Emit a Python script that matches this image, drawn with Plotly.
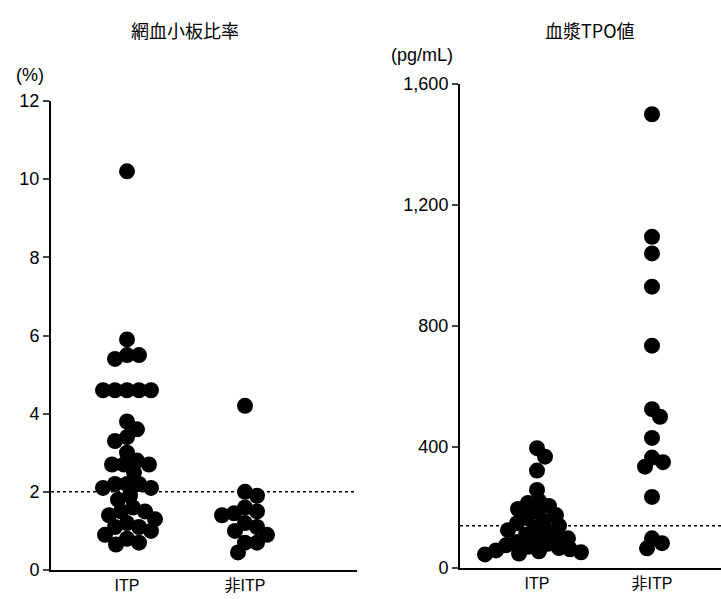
import plotly.graph_objects as go

# ---------------- data ----------------
categories = ["ITP", "非ITP"]

rp_itp = [10.2,
          5.9, 5.5, 5.5, 5.4,
          4.6, 4.6, 4.6, 4.6, 4.6,
          3.8, 3.6, 3.4, 3.3,
          3.0, 2.8, 2.7, 2.7, 2.7, 2.5,
          2.2, 2.2, 2.2, 2.1, 2.1,
          1.9, 1.8, 1.6, 1.5, 1.5, 1.4, 1.3, 1.2, 1.1, 1.1,
          1.0, 0.9, 0.8, 0.7, 0.65]
rp_non = [4.2, 2.0, 1.9, 1.6, 1.5, 1.45, 1.4, 1.2, 1.1, 1.0, 0.9, 0.7, 0.7, 0.45]
rp_cutoff = 2.0

tpo_itp = [396, 368, 322, 258, 222, 215, 205, 195, 185, 175, 165, 155, 148,
           140, 132, 125, 118, 110, 104, 98, 92, 86, 80, 75, 70, 66, 62, 58,
           55, 52, 48, 45]
tpo_non = [1500, 1095, 1040, 930, 735, 525, 500, 430, 365, 350, 335, 235, 98, 82, 65]
tpo_cutoff = 140

left_yticks = [0, 2, 4, 6, 8, 10, 12]
right_yticks = [0, 400, 800, 1200, 1600]

# ---------------- layout geometry (pixels) ----------------
W, H = 721, 599
FONT = "Liberation Sans, Arial, Noto Sans CJK JP, sans-serif"
JFONT = "Noto Sans CJK JP, sans-serif"

L_x0, L_x1 = 51, 357
L_y0, L_y1 = 570, 101
L_cat_px = [127, 245]
R_x0, R_x1 = 460, 721
R_y0, R_y1 = 568, 84
R_cat_px = [537, 652]


def swarm(values, px_per_unit, d):
    """simple beeswarm: returns x offsets in pixels"""
    order = sorted(range(len(values)), key=lambda i: -values[i])
    placed = []
    offs = [0.0] * len(values)
    for i in order:
        y = values[i] * px_per_unit
        k = 0
        while True:
            cands = [0.0] if k == 0 else [k * 1.0, -k * 1.0]
            ok = None
            for c in cands:
                if all((c - px) ** 2 + (y - py) ** 2 >= d * d for px, py in placed):
                    ok = c
                    break
            if ok is not None:
                placed.append((ok, y))
                offs[i] = ok
                break
            k += 1
    return offs


fig = go.Figure()

L_ypu = (L_y0 - L_y1) / 12.0
L_xpu = (L_cat_px[1] - L_cat_px[0])
L_xr = [(L_x0 - L_cat_px[0]) / L_xpu, (L_x1 - L_cat_px[0]) / L_xpu]
R_ypu = (R_y0 - R_y1) / 1600.0
R_xpu = (R_cat_px[1] - R_cat_px[0])
R_xr = [(R_x0 - R_cat_px[0]) / R_xpu, (R_x1 - R_cat_px[0]) / R_xpu]

marker = dict(color="black", size=16, line=dict(width=0))

for ci, vals in enumerate([rp_itp, rp_non]):
    offs = swarm(vals, L_ypu, 12)
    fig.add_trace(go.Scatter(x=[ci + o / L_xpu for o in offs], y=vals, mode="markers",
                             marker=marker, xaxis="x", yaxis="y", showlegend=False))
for ci, vals in enumerate([tpo_itp, tpo_non]):
    offs = swarm(vals, R_ypu, 11)
    fig.add_trace(go.Scatter(x=[ci + o / R_xpu for o in offs], y=vals, mode="markers",
                             marker=marker, xaxis="x2", yaxis="y2", showlegend=False))

fig.add_trace(go.Scatter(x=L_xr, y=[rp_cutoff, rp_cutoff], mode="lines",
                         line=dict(color="black", width=1.5, dash="dot"),
                         xaxis="x", yaxis="y", showlegend=False, hoverinfo="skip"))
fig.add_trace(go.Scatter(x=R_xr, y=[tpo_cutoff, tpo_cutoff], mode="lines",
                         line=dict(color="black", width=1.5, dash="dot"),
                         xaxis="x2", yaxis="y2", showlegend=False, hoverinfo="skip"))

axis_common = dict(showgrid=False, zeroline=False, showline=True, linecolor="black",
                   linewidth=2, automargin=False)

fig.update_layout(
    width=W, height=H,
    margin=dict(l=0, r=0, t=0, b=0, pad=0),
    paper_bgcolor="white", plot_bgcolor="white",
    font=dict(family=FONT, size=17, color="black"),
    xaxis=dict(domain=[L_x0 / W, L_x1 / W], range=L_xr, anchor="y",
               tickvals=[0, 1], ticktext=categories, ticks="", ticklabelstandoff=0,
               tickfont=dict(family=FONT, size=16), **axis_common),
    yaxis=dict(domain=[(H - L_y0) / H, (H - L_y1) / H], range=[0, 12], anchor="x",
               tickvals=left_yticks, ticks="outside", ticklen=6, tickwidth=1.5,
               tickfont=dict(size=18), **axis_common),
    xaxis2=dict(domain=[R_x0 / W, R_x1 / W], range=R_xr, anchor="y2",
                tickvals=[0, 1], ticktext=categories, ticks="", ticklabelstandoff=0,
                tickfont=dict(family=FONT, size=16), **axis_common),
    yaxis2=dict(domain=[(H - R_y0) / H, (H - R_y1) / H], range=[0, 1600], anchor="x2",
                tickvals=right_yticks, tickformat=",d", ticks="outside", ticklen=6,
                tickwidth=1.5, tickfont=dict(size=18), **axis_common),
    annotations=[
        dict(text="網血小板比率", x=185 / W, y=1 - 30 / H, xref="paper", yref="paper",
             xanchor="center", yanchor="middle",
             showarrow=False, font=dict(family=JFONT, size=18)),
        dict(text="血漿TPO値", x=590 / W, y=1 - 30 / H, xref="paper", yref="paper",
             xanchor="center", yanchor="middle",
             showarrow=False, font=dict(family=JFONT, size=18)),
        dict(text="(%)", x=30 / W, y=1 - 75 / H, xref="paper", yref="paper",
             xanchor="center", yanchor="middle",
             showarrow=False, font=dict(size=18)),
        dict(text="(pg/mL)", x=422 / W, y=1 - 55 / H, xref="paper", yref="paper",
             xanchor="center", yanchor="middle",
             showarrow=False, font=dict(size=18)),
    ],
)

fig.write_html("out.html")
